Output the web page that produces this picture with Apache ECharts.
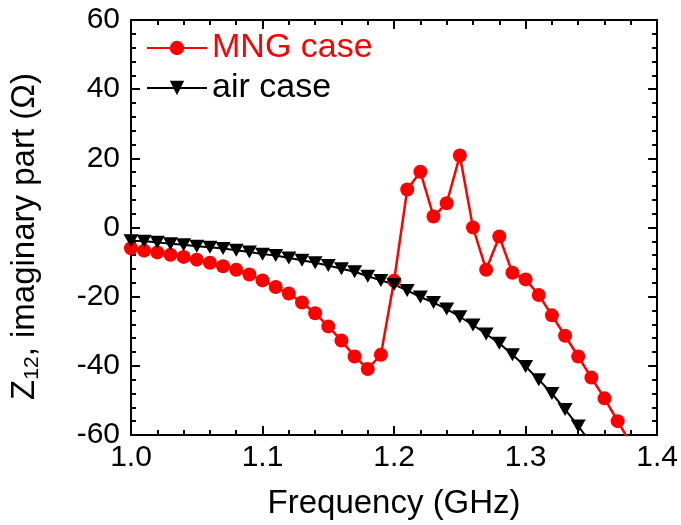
<!DOCTYPE html>
<html><head><meta charset="utf-8">
<script src="https://cdn.jsdelivr.net/npm/echarts@6/dist/echarts.min.js"></script>
<style>html,body{margin:0;padding:0;background:#fff}#c{width:681px;height:525px}</style>
</head><body><div id="c"></div>
<script>
const freqMNG = [1.00,1.01,1.02,1.03,1.04,1.05,1.06,1.07,1.08,1.09,1.10,1.11,1.12,1.13,1.14,1.15,1.16,1.17,1.18,1.19,1.20,1.21,1.22,1.23,1.24,1.25,1.26,1.27,1.28,1.29,1.30,1.31,1.32,1.33,1.34,1.35,1.36,1.37,1.38];
const mngValues = [-6.0,-6.7,-7.2,-7.9,-8.5,-9.3,-10.2,-11.2,-12.2,-13.6,-15.3,-17.2,-19.1,-21.7,-24.8,-28.6,-32.7,-37.3,-40.9,-36.8,-15.4,11.0,16.1,3.2,7.0,20.8,0.0,-12.2,-2.6,-13.1,-15.0,-19.5,-25.4,-31.3,-37.3,-43.4,-49.4,-56.0,-62.5];
const freqAir = [1.00,1.01,1.02,1.03,1.04,1.05,1.06,1.07,1.08,1.09,1.10,1.11,1.12,1.13,1.14,1.15,1.16,1.17,1.18,1.19,1.20,1.21,1.22,1.23,1.24,1.25,1.26,1.27,1.28,1.29,1.30,1.31,1.32,1.33,1.34,1.35];
const airValues = [-3.8,-4.0,-4.3,-4.7,-5.0,-5.4,-5.7,-6.1,-6.6,-7.1,-7.7,-8.1,-8.8,-9.5,-10.2,-11.0,-11.9,-12.8,-14.1,-15.3,-16.5,-18.2,-20.1,-21.7,-23.6,-25.8,-28.2,-30.8,-33.5,-36.8,-40.2,-44.0,-48.0,-52.6,-57.4,-62.5];
const xTicks = [1.0,1.1,1.2,1.3,1.4];
const yTicks = [-60,-40,-20,0,20,40,60];
const seriesNames = ['MNG case','air case'];

const FONT = 'Arial, "Liberation Sans", sans-serif';
const chart = echarts.init(document.getElementById('c'), null, {renderer:'canvas'});
const xMin = xTicks[0], xMax = xTicks[xTicks.length-1];
const yMin = yTicks[0], yMax = yTicks[yTicks.length-1];
function majorAxis(extra){
  return Object.assign({
    type:'value',
    axisLine:{show:true, onZero:false, lineStyle:{color:'#000', width:2}},
    axisTick:{show:true, inside:true, length:9, lineStyle:{color:'#000', width:2}},
    minorTick:{show:true, splitNumber:5, length:5, lineStyle:{color:'#000', width:2}},
    splitLine:{show:false}
  }, extra);
}
chart.setOption({
  animation:false,
  backgroundColor:'#fff',
  grid:{left:130, right:23, top:20, bottom:87},
  legend:{
    orient:'vertical', left:141, top:26, itemGap:6,
    itemWidth:60, itemHeight:18,
    textStyle:{fontFamily:FONT, fontSize:34},
    data:[
      {name:seriesNames[0], textStyle:{color:'#f00'}},
      {name:seriesNames[1], textStyle:{color:'#000'}}
    ]
  },
  xAxis:[
    majorAxis({position:'bottom', min:xMin, max:xMax, interval:0.1,
      name:'Frequency (GHz)', nameLocation:'middle', nameGap:52,
      nameTextStyle:{fontFamily:FONT, fontSize:33, color:'#000'},
      axisLabel:{fontFamily:FONT, fontSize:30, color:'#000', margin:8, formatter:v=>v.toFixed(1)}}),
    majorAxis({position:'top', min:xMin, max:xMax, interval:0.1, axisLabel:{show:false}})
  ],
  yAxis:[
    majorAxis({position:'left', min:yMin, max:yMax, interval:20,
      name:'{a|Z}{s|12}{a|, imaginary part (Ω)}', nameLocation:'middle', nameGap:88, nameRotate:90,
      nameTextStyle:{fontFamily:FONT, color:'#000', padding:[0,18,0,0], rich:{
        a:{fontFamily:FONT, fontSize:33, lineHeight:37, color:'#000'},
        s:{fontFamily:FONT, fontSize:21, lineHeight:21, verticalAlign:'bottom', color:'#000'}
      }},
      axisLabel:{fontFamily:FONT, fontSize:30, color:'#000', margin:11}}),
    majorAxis({position:'right', min:yMin, max:yMax, interval:20, axisLabel:{show:false}})
  ],
  series:[
    {name:seriesNames[0], type:'line', xAxisIndex:0, yAxisIndex:0,
      data:freqMNG.map((f,i)=>[f, mngValues[i]]),
      symbol:'circle', symbolSize:14, clip:true,
      lineStyle:{color:'#f00', width:2.5}, itemStyle:{color:'#f00'}},
    {name:seriesNames[1], type:'line', xAxisIndex:0, yAxisIndex:0,
      data:freqAir.map((f,i)=>[f, airValues[i]]),
      symbol:'triangle', symbolRotate:180, symbolSize:[15,13], clip:true,
      lineStyle:{color:'#000', width:2}, itemStyle:{color:'#000'}}
  ]
});
</script></body></html>
